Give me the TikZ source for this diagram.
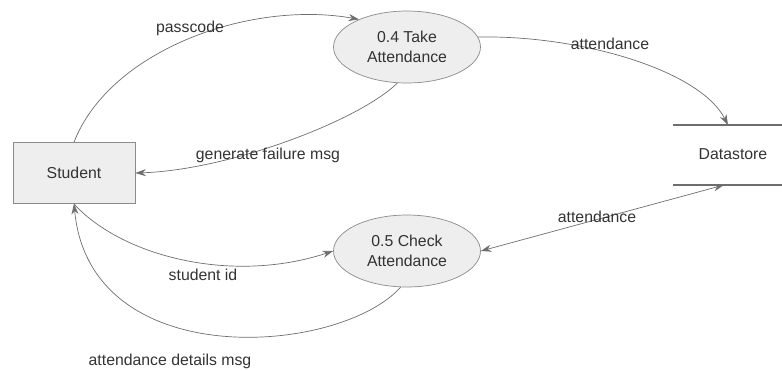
\documentclass[tikz,border=0pt]{standalone}
\usepackage{fontspec}
\setmainfont{Liberation Sans}
\usepackage{tikz}
\usetikzlibrary{positioning,calc,shapes,arrows.meta}
\definecolor{lineg}{HTML}{6E6E6E}
\definecolor{fillg}{HTML}{EEEEEE}
\definecolor{textg}{HTML}{333333}

\begin{document}
\begin{tikzpicture}[x=.02cm,y=.02cm,
  font=\fontsize{9}{11.3}\selectfont, text=textg,
  entity/.style={draw=lineg!80,fill=fillg,minimum width=2.44cm,minimum height=1.22cm,inner sep=0pt},
  proc/.style={ellipse,draw=lineg!80,fill=fillg,minimum width=2.94cm,minimum height=1.44cm,inner sep=0pt,align=center},
  flow/.style={draw=lineg,-{Stealth[length=6pt,width=4pt]}},
  lbl/.style={inner sep=1pt}]
\useasboundingbox (0,0) rectangle (782,370);
% entities and processes
\node[entity] (stud) at (74,197) {Student};
\node[proc] (take) at (407,323) {0.4 Take\\Attendance};
\node[proc] (check) at (407,119) {0.5 Check\\Attendance};
% datastore
\node (store) at (733,216) {Datastore};
\draw[lineg,line width=1.6pt] (673,245) -- (782,245); \draw[lineg,line width=1.6pt] (673,185) -- (782,185);
\coordinate (dstop) at (728,245); \coordinate (dsbot) at (724,185);
% flows
\draw[flow] (stud.north) .. controls (110,320) and (250,370) .. (take.150);
\draw[flow] (take.255) .. controls (360,250) and (230,200) .. (stud.east);
\draw[flow] (take.8) .. controls (580,335) and (700,300) .. (dstop);
\draw[flow,{Stealth[length=6pt,width=4pt]}-{Stealth[length=6pt,width=4pt]}] (check.east) -- (dsbot);
\draw[flow] (stud.south) .. controls (120,115) and (230,85) .. (check.west);
\draw[flow] (check.260) .. controls (340,15) and (90,-5) .. (stud.south);
% labels
\node[lbl] (l1) at (190,342) {passcode};
\node[lbl] (l2) at (268,215) {generate failure msg};
\node[lbl] (l3) at (610,326) {attendance};
\node[lbl] (l4) at (597,153) {attendance};
\node[lbl] (l5) at (203,95) {student id};
\node[lbl] (l6) at (170,9) {attendance details msg};
\end{tikzpicture}
\end{document}
